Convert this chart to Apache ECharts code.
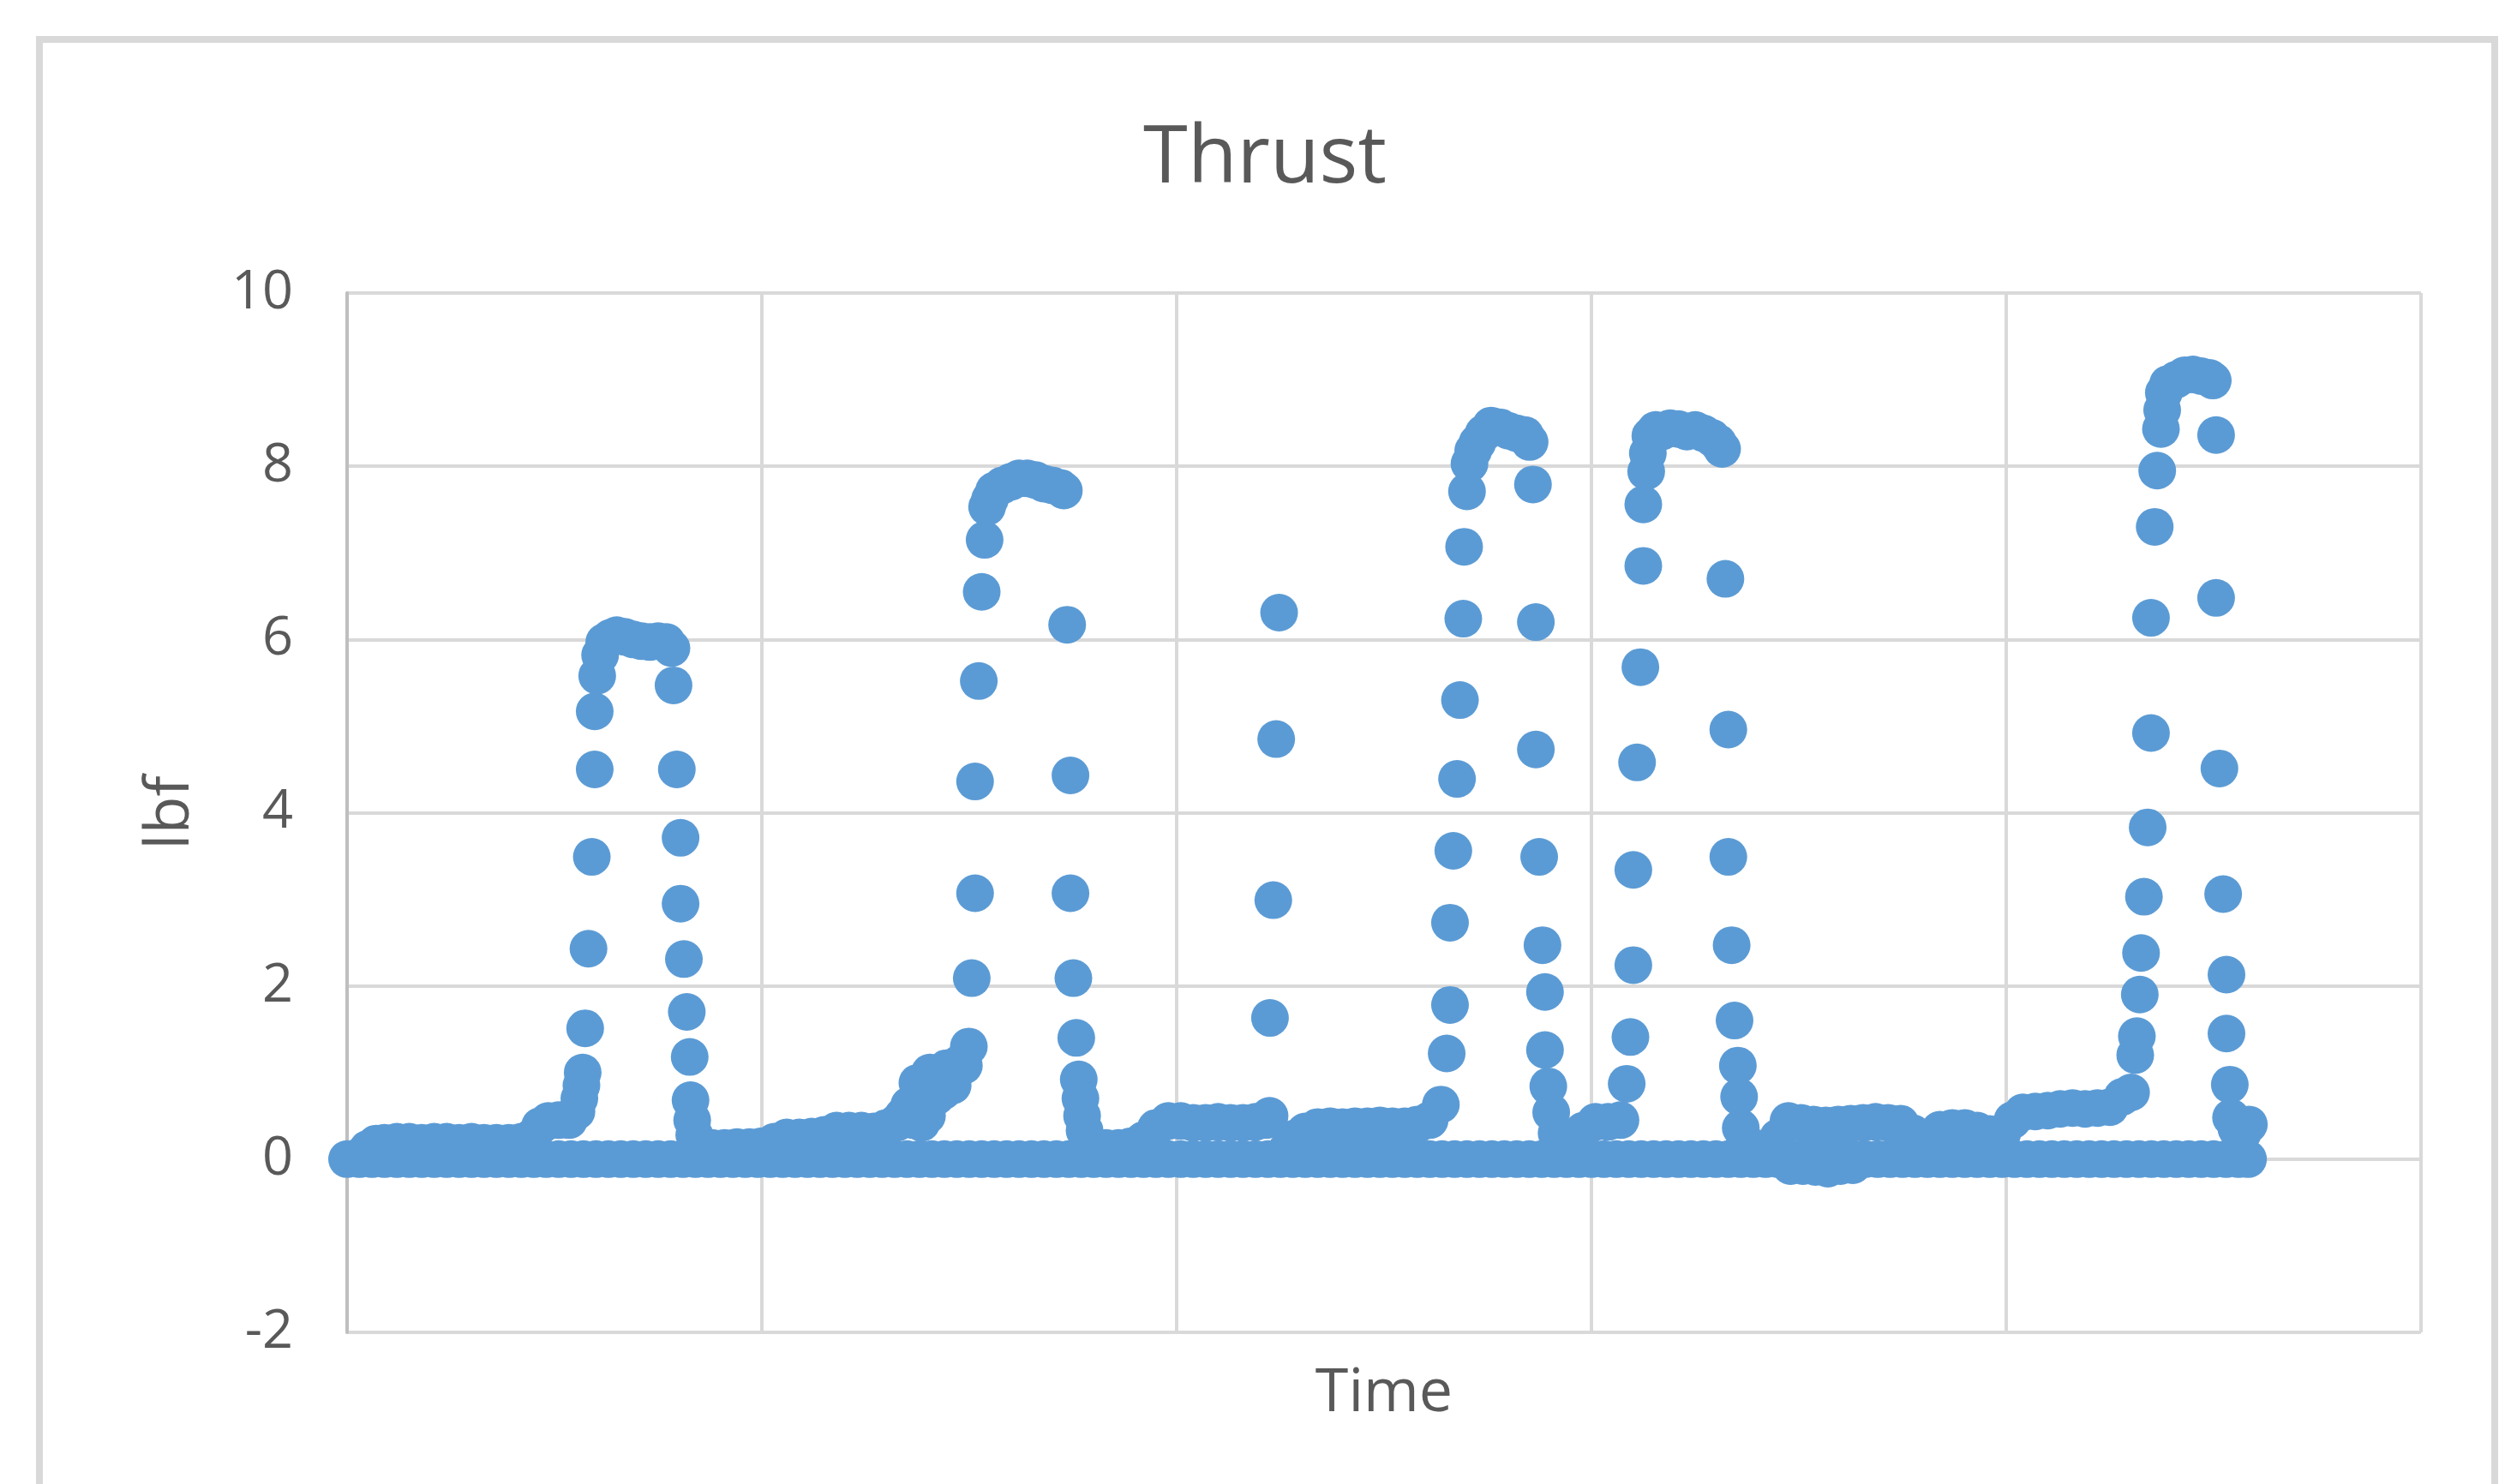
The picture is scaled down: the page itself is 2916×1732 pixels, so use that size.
<!DOCTYPE html>
<html>
<head>
<meta charset="utf-8">
<script src="https://cdn.jsdelivr.net/npm/echarts@6/dist/echarts.min.js"></script>
<style>
  html, body { margin: 0; padding: 0; background: #ffffff; }
  #chart { width: 2916px; height: 1732px; }
</style>
</head>
<body>
<div id="chart"></div>
<script>
// ---- Data (time in arbitrary units, thrust in lbf) ----
const chartTitle = 'Thrust';
const xAxisName = 'Time';
const yAxisName = 'lbf';
const yTicks = [-2, 0, 2, 4, 6, 8, 10];

// readings of the thrust signal
const sigTime = [
  3, 5, 7, 9, 12, 15, 18, 21, 24, 27, 30, 33, 36, 39, 42, 44.5, 46.5, 48.5, 51, 53.5,
  55.3, 56, 56.5, 56.8, 57.4, 58.2, 59.0, 59.7, 59.7, 60.3,
  61, 62, 63.5, 65, 67, 69, 71, 73, 75, 77, 78.2, 78.7, 79.5, 80.4, 80.4, 81.2, 81.9, 82.6, 82.8, 83.2, 83.7,
  85, 88, 91, 94, 97, 100, 103, 106, 109, 112, 115, 118, 121, 124, 127, 130,
  132.5, 134, 135.5, 136.5, 137.5, 138.5, 139, 139.8, 140.5, 142, 143.6, 144.5, 146, 147.5, 148.7, 149.9,
  150.6, 151.4, 151.4, 152.3, 153.0, 153.7, 154.3, 155, 156, 158, 160, 162, 164, 166, 168, 170, 172, 172.8,
  173.6, 174.4, 174.4, 175.1, 175.8, 176.4, 176.8, 177.2, 177.8, 178.8, 180, 183, 186, 189, 192, 195, 198,
  201, 204, 207, 210, 213, 216, 219, 221.5, 222.4, 222.5, 223.3, 224.0, 224.7,
  226.6, 228.5, 231, 234, 237, 240, 243, 246, 249, 252, 255, 258, 261, 263.7,
  265.1, 265.9, 265.9, 266.7, 267.6, 268.3, 269.1, 269.3, 270.0, 270.6, 271.5, 272.5, 274, 275.8, 278, 280, 282, 284, 285.1,
  285.9, 286.6, 286.6, 287.4, 288.2, 288.8, 288.8, 289.6, 290.3, 291.6, 292.5, 295.5, 298, 301, 304, 307,
  308.5, 309.4, 310.1, 310.1, 311.0, 311.8, 312.5, 312.5, 313.2, 313.6, 314.2, 315.5, 317, 319, 321, 323, 325, 327, 329, 330.5, 331.5,
  332.3, 333.0, 333.0, 333.8, 334.5, 335.3, 335.6, 336, 337, 339.5, 342.5, 345,
  347.5, 350.5, 353.5, 356.5, 359.5, 362.5, 365.5, 368.5, 371.5, 374.5, 377.5, 380, 381.6, 384, 387, 390, 393, 396, 399,
  401.5, 404, 407, 410, 413, 416, 419, 422, 425, 428, 430.1,
  431.1, 431.5, 432.2, 432.5, 433.2, 434.1, 434.9, 434.9, 435.8, 436.4, 437.3, 437.6, 438, 439, 441, 443, 445, 447, 449, 449.8,
  450.6, 450.6, 451.4, 452.3, 453.1, 453.1, 453.9, 454.2, 455.5, 457, 458.5,
  348, 351, 354, 357, 360, 363
];
const sigThrust = [
  0.03, 0.12, 0.18, 0.19, 0.2, 0.2, 0.19, 0.2, 0.2, 0.19, 0.2, 0.19, 0.19, 0.19, 0.2, 0.25, 0.38, 0.44, 0.45, 0.45,
  0.55, 0.7, 0.85, 1.0, 1.51, 2.43, 3.49, 4.50, 5.17, 5.58,
  5.82, 5.97, 6.02, 6.05, 6.03, 6.0, 5.98, 5.97, 5.98, 5.97, 5.9, 5.47, 4.50, 3.71, 2.95, 2.31, 1.70, 1.18, 0.68, 0.45, 0.28,
  0.15, 0.13, 0.13, 0.14, 0.14, 0.15, 0.2, 0.25, 0.25, 0.26, 0.28, 0.33, 0.33, 0.33, 0.32, 0.36,
  0.42, 0.5, 0.62, 0.45, 0.88, 0.42, 0.68, 0.5, 1.0, 0.72, 0.78, 1.05, 0.85, 1.1, 1.08, 1.3,
  2.09, 3.07, 4.36, 5.52, 6.55, 7.15, 7.53, 7.62, 7.72, 7.78, 7.82, 7.86, 7.86, 7.84, 7.8, 7.78, 7.75, 7.72,
  6.17, 4.43, 3.07, 2.09, 1.40, 0.92, 0.7, 0.5, 0.33, 0.2, 0.14, 0.13, 0.13, 0.15, 0.22, 0.36, 0.44,
  0.44, 0.42, 0.42, 0.43, 0.42, 0.42, 0.43, 0.45, 0.5, 1.63, 2.99, 4.85, 6.31,
  0.11, 0.24, 0.32, 0.37, 0.38, 0.37, 0.38, 0.38, 0.39, 0.38, 0.38, 0.4, 0.45, 0.63,
  1.22, 1.78, 2.73, 3.56, 4.39, 5.30, 6.24, 7.07, 7.71, 8.03, 8.18, 8.27, 8.38, 8.47, 8.45, 8.41, 8.38, 8.36, 8.28,
  7.79, 6.20, 4.73, 3.49, 2.47, 1.93, 1.26, 0.84, 0.54, 0.3, 0.25, 0.23, 0.33, 0.43, 0.43, 0.45,
  0.87, 1.41, 2.24, 3.34, 4.58, 5.68, 6.85, 7.56, 7.94, 8.15, 8.35, 8.42, 8.4, 8.44, 8.43, 8.4, 8.42, 8.38, 8.33, 8.27, 8.2,
  6.70, 4.96, 3.49, 2.47, 1.60, 1.08, 0.72, 0.36, 0.2, 0.13, 0.13, 0.25,
  0.44, 0.42, 0.4, 0.39, 0.4, 0.41, 0.42, 0.43, 0.42, 0.41, 0.3, 0.22, 0.19, 0.34, 0.36, 0.36, 0.33, 0.29, 0.29,
  0.45, 0.54, 0.55, 0.56, 0.58, 0.59, 0.58, 0.59, 0.6, 0.72, 0.77,
  1.2, 1.42, 1.9, 2.38, 3.03, 3.83, 4.92, 6.25, 7.30, 7.95, 8.43, 8.65, 8.85, 8.95, 9.0, 9.05, 9.06, 9.04, 9.02, 8.99,
  8.36, 6.48, 4.51, 3.06, 2.13, 1.45, 0.86, 0.48, 0.35, 0.3, 0.4,
  -0.08, -0.08, -0.09, -0.11, -0.08, -0.07
];

// readings that sit on the zero line (interleaved zero samples)
const zeroTime = [
  0, 3, 6, 9, 12, 15, 18, 21, 24, 27, 30, 33, 36, 39, 42, 45, 48, 51, 54, 57, 60, 63, 66, 69, 72, 75, 78, 81, 84, 87,
  90, 93, 96, 99, 102, 105, 108, 111, 114, 117, 120, 123, 126, 129, 132, 135, 138, 141, 144, 147, 150, 153, 156, 159,
  162, 165, 168, 171, 174, 177, 180, 183, 186, 189, 192, 195, 198, 201, 204, 207, 210, 213, 216, 219, 222, 225, 228,
  231, 234, 237, 240, 243, 246, 249, 252, 255, 258, 261, 264, 267, 270, 273, 276, 279, 282, 285, 288, 291, 294, 297,
  300, 303, 306, 309, 312, 315, 318, 321, 324, 327, 330, 333, 336, 339, 342, 345, 348, 351, 354, 357, 360, 363, 366,
  369, 372, 375, 378, 381, 384, 387, 390, 393, 396, 399, 402, 405, 408, 411, 414, 417, 420, 423, 426, 429, 432, 435,
  438, 441, 444, 447, 450, 453, 456, 458.3
];
const zeroThrust = zeroTime.map(function () { return 0; });

// ---- Chart ----
const sigData = sigTime.map(function (t, i) { return [t, sigThrust[i]]; });
const zeroData = zeroTime.map(function (t, i) { return [t, zeroThrust[i]]; });

const FONT = 'Open Sans';
const TEXT = '#595959';
const BLUE = '#5b9bd5';

const chart = echarts.init(document.getElementById('chart'), null, { renderer: 'canvas' });
chart.setOption({
  animation: false,
  backgroundColor: '#ffffff',
  grid: { left: 405, right: 91, top: 342, bottom: 177, containLabel: false },
  graphic: [
    {
      type: 'rect', z: -10, silent: true,
      shape: { x: 46, y: 46, width: 2865, height: 1800 },
      style: { fill: '#ffffff', stroke: '#d9d9d9', lineWidth: 8 }
    },
    {
      type: 'text', z: 10, silent: true,
      style: {
        x: 1476, y: 186, text: chartTitle, align: 'center', verticalAlign: 'middle',
        font: 'normal 94px "' + FONT + '"', fill: TEXT
      }
    }
  ],
  xAxis: {
    type: 'value', min: 0, max: 500, interval: 100,
    name: xAxisName, nameLocation: 'middle', nameGap: 37,
    nameTextStyle: { fontFamily: FONT, fontSize: 70, color: TEXT },
    axisLine: { show: false },
    axisTick: { show: false },
    axisLabel: { show: false },
    splitLine: { show: true, lineStyle: { color: '#d9d9d9', width: 4 } }
  },
  yAxis: {
    type: 'value', min: yTicks[0], max: yTicks[yTicks.length - 1], interval: 2,
    name: yAxisName, nameLocation: 'middle', nameGap: 170, nameRotate: 90,
    nameTextStyle: { fontFamily: FONT, fontSize: 72, color: TEXT },
    axisLine: { show: true, onZero: false, lineStyle: { color: '#bfbfbf', width: 4 } },
    axisTick: { show: false },
    axisLabel: { fontFamily: FONT, fontSize: 63, color: TEXT, margin: 63 },
    splitLine: { show: true, lineStyle: { color: '#d9d9d9', width: 4 } }
  },
  series: [
    {
      type: 'scatter', name: 'zero', data: zeroData, symbol: 'circle', symbolSize: 44,
      itemStyle: { color: BLUE, opacity: 1 }, silent: true, large: false
    },
    {
      type: 'scatter', name: 'Thrust', data: sigData, symbol: 'circle', symbolSize: 44,
      itemStyle: { color: BLUE, opacity: 1 }, silent: true, large: false
    }
  ]
});
</script>
</body>
</html>
